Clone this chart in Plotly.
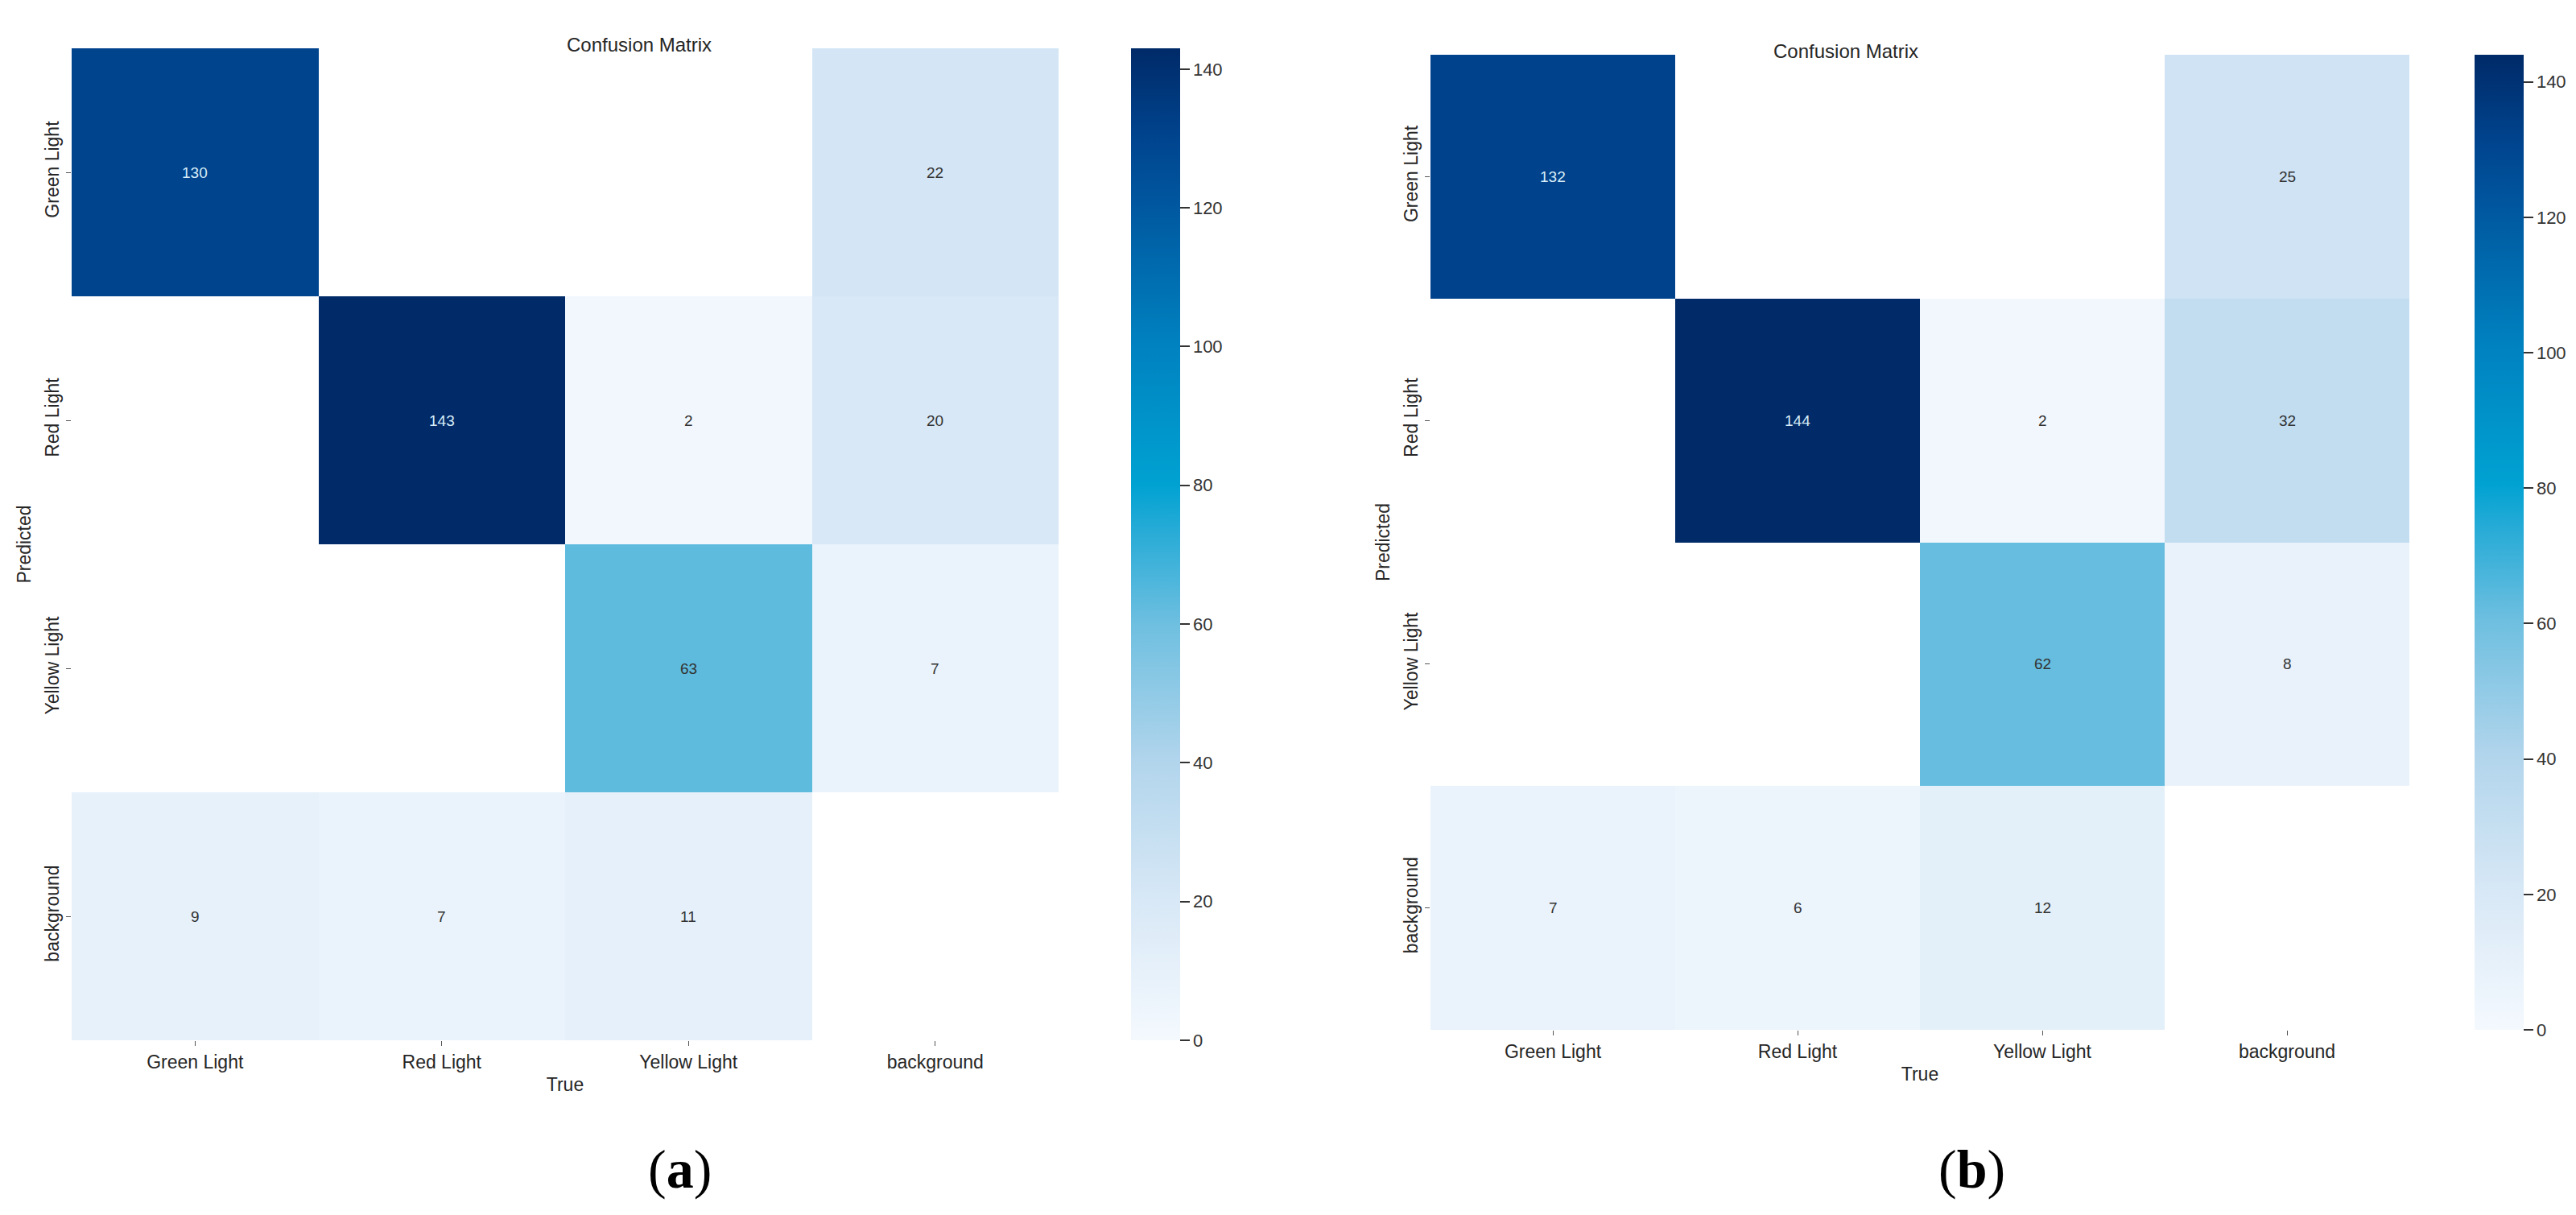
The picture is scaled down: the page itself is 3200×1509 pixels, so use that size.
import numpy as np
import plotly.graph_objects as go

# class names (True on x, Predicted on y)
classes = ["Green Light", "Red Light", "Yellow Light", "background"]

# rows = Predicted, cols = True
cm_a = [
    [130, 0, 0, 22],
    [0, 143, 2, 20],
    [0, 0, 63, 7],
    [9, 7, 11, 0],
]
cm_b = [
    [132, 0, 0, 25],
    [0, 144, 2, 32],
    [0, 0, 62, 8],
    [7, 6, 12, 0],
]

cbar_ticks = [0, 20, 40, 60, 80, 100, 120, 140]
panel_labels = ["(<b>a</b>)", "(<b>b</b>)"]

# Blues-like scale as it appears in the picture
blues = [
    [0.0, "#f4f9fe"],
    [0.14, "#d8e8f6"],
    [0.28, "#b2d5ec"],
    [0.42, "#6ebfe0"],
    [0.52, "#22aad6"],
    [0.56, "#00a2d2"],
    [0.70, "#0082c0"],
    [0.84, "#0058a0"],
    [0.91, "#00448e"],
    [1.0, "#002a68"],
]

FONT = "Liberation Sans, Arial, sans-serif"
W, H = 3200, 1509

# pixel boxes of each panel: heatmap (x0, x1, y0, y1) and colorbar x
panels = [
    dict(cm=cm_a, hx=(81, 1307), hy=(52, 1284), cbx=1397, title_y=32, lab_x=795),
    dict(cm=cm_b, hx=(1769, 2985), hy=(60, 1271), cbx=3066, title_y=40, lab_x=2485),
]

fig = go.Figure()
annotations = []

for i, p in enumerate(panels):
    n = "" if i == 0 else str(i + 1)
    z = np.array(p["cm"], dtype=float)
    zmax = z.max()
    zmask = np.where(z > 0, z, np.nan)
    ylo = 1 - p["hy"][1] / H
    yhi = 1 - p["hy"][0] / H

    fig.add_trace(go.Heatmap(
        z=zmask, x=classes, y=classes,
        xaxis="x" + n, yaxis="y" + n,
        colorscale=blues, zmin=0, zmax=zmax,
        xgap=0, ygap=0, hoverongaps=False,
        colorbar=dict(
            x=p["cbx"] / W, xanchor="left", xref="paper", xpad=0, ypad=0,
            y=ylo, yanchor="bottom", len=yhi - ylo, lenmode="fraction",
            thickness=61, outlinewidth=0,
            tickvals=cbar_ticks, ticks="outside", ticklen=12, tickwidth=2,
            tickcolor="#333333",
            tickfont=dict(family=FONT, size=22, color="#333333"),
        ),
    ))

    fig.layout["xaxis" + n] = dict(
        domain=[p["hx"][0] / W, p["hx"][1] / W], anchor="y" + n,
        ticks="outside", ticklen=6, tickwidth=1, tickcolor="#555555",
        tickfont=dict(family=FONT, size=23, color="#262626"),
        title=dict(text="True", font=dict(family=FONT, size=23, color="#262626"), standoff=8),
        showgrid=False, zeroline=False, showline=False,
    )
    fig.layout["yaxis" + n] = dict(
        domain=[ylo, yhi], anchor="x" + n, autorange="reversed",
        ticks="outside", ticklen=6, tickwidth=1, tickcolor="#555555",
        tickangle=-90,
        tickfont=dict(family=FONT, size=23, color="#262626"),
        title=dict(text="Predicted", font=dict(family=FONT, size=23, color="#262626"), standoff=6),
        showgrid=False, zeroline=False, showline=False,
    )

    # cell values
    for r, rname in enumerate(classes):
        for c, cname in enumerate(classes):
            v = p["cm"][r][c]
            if v == 0:
                continue
            annotations.append(dict(
                x=cname, y=rname, xref="x" + n, yref="y" + n,
                text=str(v), showarrow=False,
                font=dict(family=FONT, size=19,
                          color="#d6ecf8" if v > 0.6 * zmax else "#333333"),
            ))

    annotations.append(dict(
        x=(p["hx"][0] + p["hx"][1]) / 2 / W, y=1 - p["title_y"] / H,
        xref="paper", yref="paper", text="Confusion Matrix", showarrow=False,
        font=dict(family=FONT, size=24, color="#262626"),
    ))
    annotations.append(dict(
        x=p["lab_x"] / W, y=1 - 1484 / H, xref="paper", yref="paper",
        text=panel_labels[i], showarrow=False,
        font=dict(family="Liberation Serif, Times New Roman, serif", size=68, color="#000000"),
    ))

fig.update_layout(
    width=W, height=H,
    margin=dict(l=0, r=0, t=0, b=0),
    paper_bgcolor="white", plot_bgcolor="white",
    annotations=annotations,
    showlegend=False,
)

fig.write_html("out.html")
